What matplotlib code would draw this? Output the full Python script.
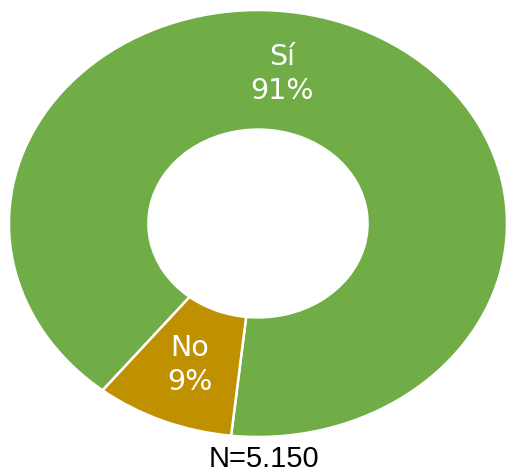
import matplotlib
matplotlib.use('Agg')
import matplotlib.pyplot as plt

# Data
categories = ['Sí', 'No']
shares = [91, 9]
colors = ['#70AD47', '#BF9000']
total_n = 'N=5.150'

fig = plt.figure(figsize=(5.07, 4.72), dpi=100)
ax = fig.add_axes([0, 0, 1, 1])

wedges, _ = ax.pie(shares, colors=colors, startangle=231.4, counterclock=False,
                   radius=1.0,
                   wedgeprops=dict(width=0.56, edgecolor='white', linewidth=1.8))

# stretch the donut into an ellipse like the original
ax.set_aspect('auto')
ax.set_xlim(-1.036, 1.0)
ax.set_ylim(-1.164, 1.047)
ax.axis('off')

label_pos = [(0.096, 0.70), (-0.273, -0.663)]
for name, val, (lx, ly) in zip(categories, shares, label_pos):
    ax.text(lx, ly, f'{name}\n{val}%', color='white', fontsize=20.5,
            ha='center', va='center', linespacing=1.25, family='DejaVu Sans')

fig.text(264 / 507, 1 - 459 / 472, total_n, fontsize=21, ha='center', va='center',
         family='Liberation Sans', color='black')

fig.savefig('out.png', dpi=100, facecolor='white')
